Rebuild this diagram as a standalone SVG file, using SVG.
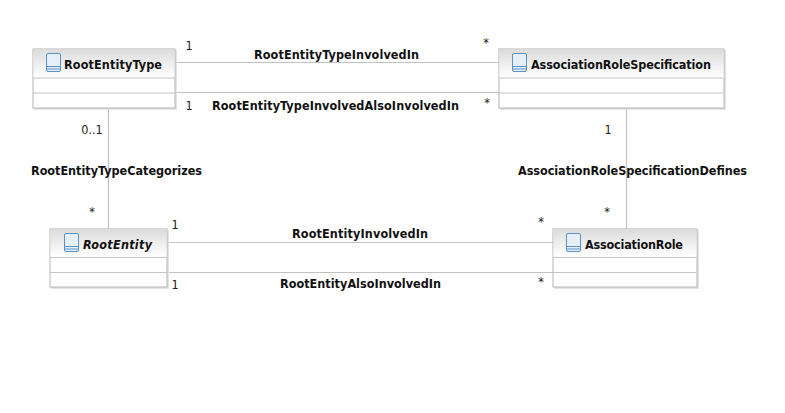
<svg xmlns="http://www.w3.org/2000/svg" width="785" height="413" viewBox="0 0 785 413">
<style>
text{font-family:"DejaVu Sans Condensed","DejaVu Sans",sans-serif;font-size:12.5px;fill:#111}
.n{font-weight:bold}
.l{font-weight:bold;text-anchor:middle}
.m{font-size:12.5px;text-anchor:middle;fill:#222}
.box{fill:#fff;stroke:#b4b4b4;stroke-width:1}
.shadow{fill:#e4e4e4}
.div{stroke:#c4c4c4;stroke-width:1.2;fill:none}
.c{stroke:#c2c2c2;stroke-width:1.2;fill:none}
.ic{fill:#e6eff8;stroke:#5b93c7;stroke-width:1}
</style>
<defs>
<linearGradient id="h" x1="0" y1="0" x2="0" y2="1"><stop offset="0" stop-color="#dcdcdc"/><stop offset="1" stop-color="#ffffff"/></linearGradient>
<g id="icon"><rect class="ic" x="0.5" y="0.5" width="14" height="18" rx="1.5"/><path d="M0.5 13.5h14M0.5 16h14" stroke="#5b93c7" fill="none"/></g>
</defs>
<g id="connectors">
<path class="c" d="M175 62.500H499M175 92.500H499M108.500 108V229M626.500 108V229M167 242.500H553M167 272.500H553"/>
</g>
<g id="RootEntityType">
<rect class="shadow" x="34" y="50" width="143" height="60"/>
<rect class="box" x="33" y="49" width="142" height="59"/>
<rect x="33.500" y="49.500" width="141" height="28" fill="url(#h)"/>
<path class="div" d="M33 78H175M33 93H175"/>
<use href="#icon" x="46" y="53"/>
<text class="n" x="64" y="69" textLength="98">RootEntityType</text>
</g>
<g id="AssociationRoleSpecification">
<rect class="shadow" x="500" y="50" width="226" height="60"/>
<rect class="box" x="499" y="49" width="225" height="59"/>
<rect x="499.500" y="49.500" width="224" height="28" fill="url(#h)"/>
<path class="div" d="M499 78H723M499 93H723"/>
<use href="#icon" x="512" y="53"/>
<text class="n" x="531" y="69" textLength="180">AssociationRoleSpecification</text>
</g>
<g id="RootEntity">
<rect class="shadow" x="51" y="230" width="118" height="59"/>
<rect class="box" x="50" y="229" width="117" height="58"/>
<rect x="50.500" y="229.500" width="116" height="27" fill="url(#h)"/>
<path class="div" d="M50 257.500H167M50 272.500H167"/>
<use href="#icon" x="64" y="233"/>
<text class="n" font-style="italic" x="83" y="249" textLength="69">RootEntity</text>
</g>
<g id="AssociationRole">
<rect class="shadow" x="554" y="230" width="145" height="59"/>
<rect class="box" x="553" y="229" width="144" height="58"/>
<rect x="553.500" y="229.500" width="143" height="27" fill="url(#h)"/>
<path class="div" d="M553 257.500H696M553 272.500H696"/>
<use href="#icon" x="566" y="233"/>
<text class="n" x="585" y="249" textLength="98">AssociationRole</text>
</g>
<g id="labels">
<text class="l" x="336.500" y="59" textLength="165">RootEntityTypeInvolvedIn</text>
<text class="l" x="335.500" y="110" textLength="247">RootEntityTypeInvolvedAlsoInvolvedIn</text>
<text class="l" x="116.500" y="175" textLength="171">RootEntityTypeCategorizes</text>
<text class="l" x="632.500" y="175" textLength="229">AssociationRoleSpecificationDefines</text>
<text class="l" x="360" y="238" textLength="136">RootEntityInvolvedIn</text>
<text class="l" x="360.500" y="288" textLength="161">RootEntityAlsoInvolvedIn</text>
<text class="m" x="189" y="50">1</text>
<text class="m" x="486" y="47">*</text>
<text class="m" x="189" y="110">1</text>
<text class="m" x="487" y="107">*</text>
<text class="m" x="92" y="134">0..1</text>
<text class="m" x="92" y="216">*</text>
<text class="m" x="175" y="229">1</text>
<text class="m" x="175" y="289">1</text>
<text class="m" x="541" y="226">*</text>
<text class="m" x="541" y="286">*</text>
<text class="m" x="608" y="134">1</text>
<text class="m" x="607" y="216">*</text>
</g>
</svg>
